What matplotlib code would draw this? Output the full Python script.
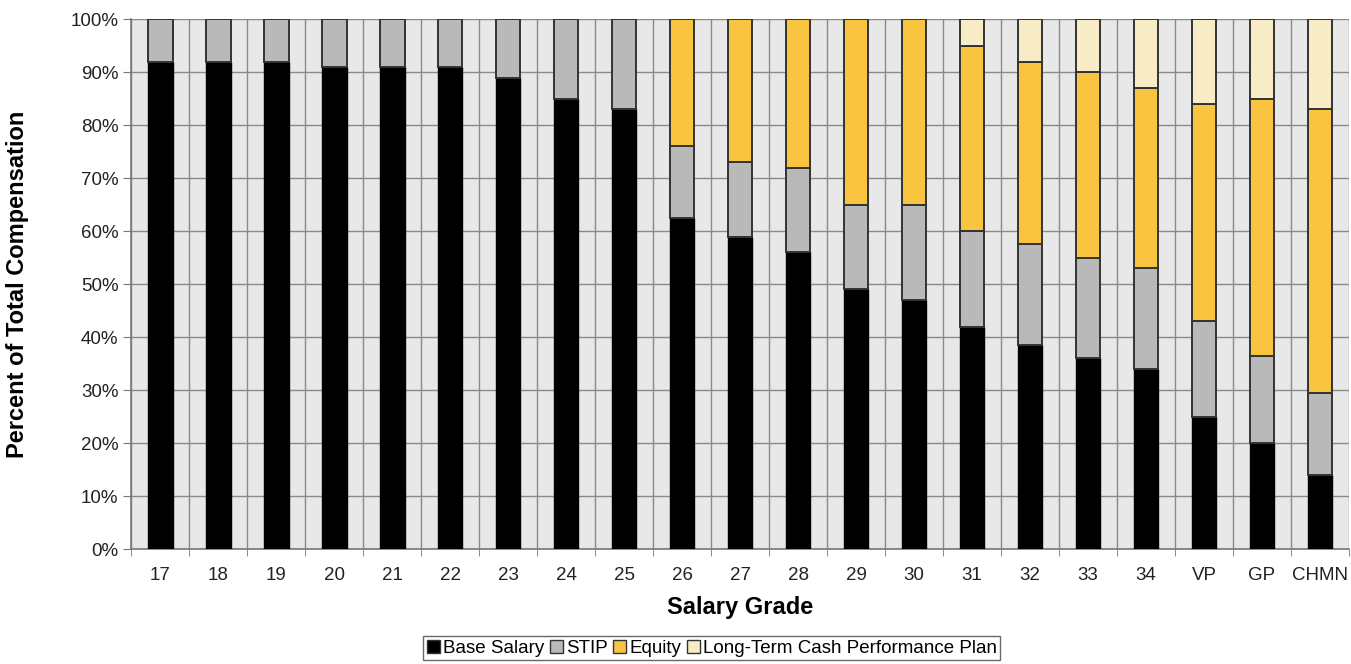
import numpy as np
import matplotlib
matplotlib.use("Agg")
import matplotlib.pyplot as plt
from matplotlib.patches import Patch
from matplotlib.ticker import FixedLocator, PercentFormatter

# Data (percent of total compensation)
grades = ["17", "18", "19", "20", "21", "22", "23", "24", "25", "26", "27",
          "28", "29", "30", "31", "32", "33", "34", "VP", "GP", "CHMN"]
base_salary = [92, 92, 92, 91, 91, 91, 89, 85, 83, 62.5, 59, 56, 49, 47,
               42, 38.5, 36, 34, 25, 20, 14]
stip = [8, 8, 8, 9, 9, 9, 11, 15, 17, 13.5, 14, 16, 16, 18,
        18, 19, 19, 19, 18, 16.5, 15.5]
equity = [0, 0, 0, 0, 0, 0, 0, 0, 0, 24, 27, 28, 35, 35,
          35, 34.5, 35, 34, 41, 48.5, 53.5]
ltcpp = [0, 0, 0, 0, 0, 0, 0, 0, 0, 0, 0, 0, 0, 0,
         5, 8, 10, 13, 16, 15, 17]

plt.rcParams['font.family'] = ['Liberation Sans', 'DejaVu Sans']

fig = plt.figure(figsize=(13.51, 6.64), dpi=100)
ax = fig.add_axes([0.097, 0.173, 0.9015, 0.798])

x = np.arange(len(grades))
w = 0.43
c_base = "black"
c_stip = "#b9b9b9"
c_eq = "#f9c440"
c_lt = "#f8ecc6"
edge = "#333333"

b0 = np.zeros(len(grades))
ax.bar(x, base_salary, w, bottom=b0, color=c_base, edgecolor=c_base, linewidth=1, zorder=3)
b0 = b0 + np.array(base_salary)
ax.bar(x, stip, w, bottom=b0, color=c_stip, edgecolor=edge, linewidth=1.4, zorder=3)
b0 = b0 + np.array(stip)
eq = np.array(equity)
ax.bar(x[eq > 0], eq[eq > 0], w, bottom=b0[eq > 0], color=c_eq, edgecolor=edge, linewidth=1.4, zorder=3)
b0 = b0 + eq
lt = np.array(ltcpp)
ax.bar(x[lt > 0], lt[lt > 0], w, bottom=b0[lt > 0], color=c_lt, edgecolor=edge, linewidth=1.4, zorder=3)

ax.set_xlim(-0.5, len(grades) - 0.5)
ax.set_ylim(0, 100)
ax.set_facecolor("#e8e8e8")

# ticks / grid
ax.set_xticks(x)
ax.set_xticklabels(grades, fontsize=13.5, color="#222222")
ax.tick_params(axis="x", which="major", length=0, pad=13)
ax.xaxis.set_minor_locator(FixedLocator(np.arange(-0.5, len(grades), 1)))
ax.tick_params(axis="x", which="minor", length=5, color="#777777")
ax.grid(axis="x", which="minor", color="#8a8a8a", linewidth=1, zorder=0)

ax.set_yticks(np.arange(0, 101, 10))
ax.yaxis.set_major_formatter(PercentFormatter(decimals=0))
ax.tick_params(axis="y", length=6, color="#777777", labelsize=13.5, labelcolor="#222222", pad=3)
ax.grid(axis="y", which="major", color="#8a8a8a", linewidth=1, zorder=0)

for s in ["top", "right"]:
    ax.spines[s].set_visible(False)
for s in ["left", "bottom"]:
    ax.spines[s].set_color("#777777")
    ax.spines[s].set_linewidth(1.2)

ax.set_xlabel("Salary Grade", fontsize=17, fontweight="bold")
ax.set_ylabel("Percent of Total Compensation", fontsize=17, fontweight="bold")
ax.xaxis.set_label_coords(0.5, -0.088)
ax.yaxis.set_label_coords(-0.084, 0.5)

# Legend
handles = [Patch(facecolor=c_base, edgecolor=edge, label="Base Salary"),
           Patch(facecolor=c_stip, edgecolor=edge, label="STIP"),
           Patch(facecolor=c_eq, edgecolor=edge, label="Equity"),
           Patch(facecolor=c_lt, edgecolor=edge, label="Long-Term Cash Performance Plan")]
leg = fig.legend(handles=handles, loc="center", bbox_to_anchor=(0.527, 0.024), ncol=4,
                 fontsize=13.5, frameon=True, fancybox=False, handlelength=0.7,
                 handleheight=0.7, handletextpad=0.15, columnspacing=0.3,
                 borderpad=0.2, borderaxespad=0)
leg.get_frame().set_edgecolor("#444444")
leg.get_frame().set_linewidth(1)

fig.savefig("out.png", dpi=100)
